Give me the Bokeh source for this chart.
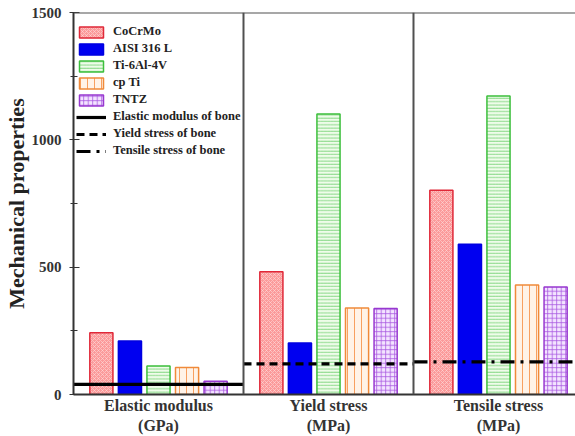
from bokeh.plotting import figure
from bokeh.models import Range1d, FixedTicker, Span, Legend, LegendItem, ColumnDataSource
from bokeh.embed import file_html
from bokeh.resources import INLINE

# ---- data ----
properties = ["Elastic modulus\n(GPa)", "Yield stress\n(MPa)", "Tensile stress\n(MPa)"]
materials = ["CoCrMo", "AISI 316 L", "Ti-6Al-4V", "cp Ti", "TNTZ"]
cocrmo = [242, 482, 802]
aisi316l = [210, 202, 590]
ti6al4v = [112, 1101, 1172]
cpti = [106, 340, 430]
tntz = [52, 338, 422]
bone = [40, 120, 128]
bone_labels = ["Elastic modulus of bone", "Yield stress of bone", "Tensile stress of bone"]
y_ticks = [0, 500, 1000, 1500]
y_minor = [250, 750, 1250]

series = [cocrmo, aisi316l, ti6al4v, cpti, tntz]
styles = [
    dict(fill_color="#fb9a9a", line_color="#e02838", hatch_pattern="diagonal_cross", hatch_color="#ffdcdc", hatch_scale=4, hatch_weight=0.6),
    dict(fill_color="#0000f0", line_color="#0000e0"),
    dict(fill_color="#effcea", line_color="#3cbf3c", hatch_pattern="horizontal_line", hatch_color="#70d070", hatch_scale=3.3, hatch_weight=0.8),
    dict(fill_color="#fff3e8", line_color="#f08a3a", hatch_pattern="vertical_line", hatch_color="#f8a060", hatch_scale=7, hatch_weight=1),
    dict(fill_color="#f3e4ff", line_color="#9838d0", hatch_pattern="cross", hatch_color="#a858e0", hatch_scale=4.5, hatch_weight=0.8),
]

FONT = "Liberation Serif"
panel_w = 1.0
bar_step = 0.168
bar_w = 0.136

p = figure(width=575, height=436, x_range=Range1d(0, 2.953), y_range=Range1d(0, 1500),
           output_backend="svg", toolbar_location=None,
           min_border_left=73, min_border_right=0, min_border_top=12, min_border_bottom=41)
p.outline_line_color = None
p.xgrid.visible = False
p.ygrid.visible = False
p.background_fill_color = "white"

legend_items = []
for k, (name, vals, st) in enumerate(zip(materials, series, styles)):
    xs = [i * panel_w + 0.5 + (k - 2) * bar_step for i in range(len(properties))]
    src = ColumnDataSource(dict(x=xs, top=vals))
    r = p.vbar(x="x", top="top", bottom=0, width=bar_w, source=src, line_width=1.5, **st)
    legend_items.append(LegendItem(label=name, renderers=[r]))

dashes = ["solid", "8 5", "14 6 3 6"]
for i, (val, lab, d) in enumerate(zip(bone, bone_labels, dashes)):
    r = p.line([i * panel_w, (i + 1) * panel_w], [val, val], line_color="black", line_width=3.2, line_dash=d)
    legend_items.append(LegendItem(label=lab, renderers=[r]))

for i in range(1, len(properties)):
    p.add_layout(Span(location=i * panel_w, dimension="height", line_color="#505050", line_width=2))
p.add_layout(Span(location=1500, dimension="width", line_color="#505050", line_width=2))

# y axis
p.yaxis.ticker = FixedTicker(ticks=y_ticks, minor_ticks=y_minor)
p.yaxis.major_tick_in = 6
p.yaxis.major_tick_out = 4
p.yaxis.minor_tick_in = 4
p.yaxis.minor_tick_out = 3
p.yaxis.axis_line_width = 2
p.yaxis.axis_line_color = "#333333"
p.yaxis.major_tick_line_color = "#333333"
p.yaxis.minor_tick_line_color = "#333333"
p.yaxis.major_label_text_font = FONT
p.yaxis.major_label_text_font_style = "bold"
p.yaxis.major_label_text_font_size = "15px"
p.yaxis.major_label_text_color = "#333333"
p.yaxis.major_label_standoff = 8
p.yaxis.axis_label = "Mechanical properties"
p.yaxis.axis_label_text_font = FONT
p.yaxis.axis_label_text_font_style = "bold"
p.yaxis.axis_label_text_font_size = "22px"
p.yaxis.axis_label_text_color = "#222222"
p.yaxis.axis_label_standoff = 0

# x axis
p.xaxis.ticker = FixedTicker(ticks=[i + 0.5 for i in range(len(properties))])
p.xaxis.major_label_overrides = {i + 0.5: lab for i, lab in enumerate(properties)}
p.xaxis.major_tick_line_color = None
p.xaxis.major_tick_out = 0
p.xaxis.major_tick_in = 0
p.xaxis.minor_tick_line_color = None
p.xaxis.minor_tick_out = 0
p.xaxis.axis_line_width = 2
p.xaxis.axis_line_color = "#333333"
p.xaxis.major_label_text_font = FONT
p.xaxis.major_label_text_font_style = "bold"
p.xaxis.major_label_text_font_size = "16px"
p.xaxis.major_label_text_color = "#333333"
p.xaxis.major_label_standoff = 2

legend = Legend(items=legend_items, location=(3, 236))
legend.background_fill_alpha = 0
legend.border_line_color = None
legend.label_text_font = FONT
legend.label_text_font_style = "bold"
legend.label_text_font_size = "12.5px"
legend.label_text_color = "#222222"
legend.glyph_width = 30
legend.glyph_height = 14
legend.label_height = 14
legend.spacing = 2
legend.padding = 4
legend.margin = 0
legend.label_standoff = 7
p.add_layout(legend)

open("out.html", "w").write(file_html(p, INLINE))
